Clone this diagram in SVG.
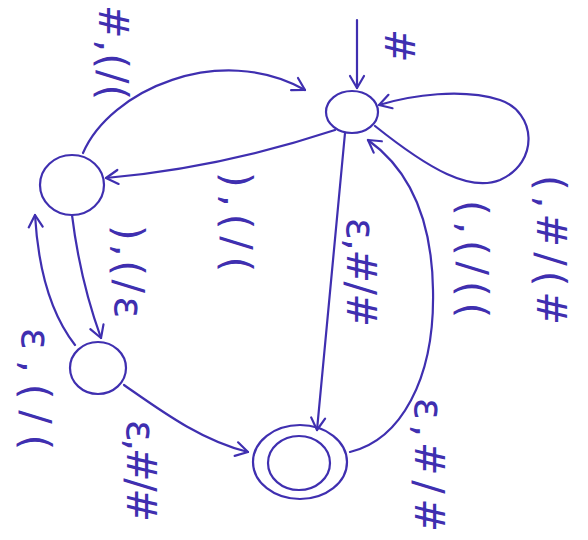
<svg xmlns="http://www.w3.org/2000/svg" width="588" height="540" viewBox="0 0 588 540">
<defs>
<style>
.ink{fill:none;stroke:#3f2fb0;stroke-width:2.2;stroke-linecap:round;stroke-linejoin:round}
.lbl{font-family:"DejaVu Sans",sans-serif;font-size:40px;fill:#3f2fb0}
</style>
<marker id="arr" markerUnits="userSpaceOnUse" viewBox="-14 -9 16 18" refX="0" refY="0" markerWidth="16" markerHeight="18" orient="auto">
<path d="M-12,-7 L0,0 L-12,7" fill="none" stroke="#3f2fb0" stroke-width="2.2" stroke-linecap="round" stroke-linejoin="round"/>
</marker>
</defs>
<rect width="588" height="540" fill="#ffffff"/>
<g id="nodeA"><ellipse class="ink" cx="72" cy="185" rx="32" ry="30"/></g>
<g id="nodeB"><ellipse class="ink" cx="352" cy="112" rx="26" ry="21"/></g>
<g id="nodeC"><ellipse class="ink" cx="98" cy="368" rx="28" ry="26"/></g>
<g id="nodeD"><ellipse class="ink" cx="300" cy="462" rx="47" ry="37"/><ellipse class="ink" cx="299" cy="463" rx="31" ry="27"/></g>
<g id="connectors">
<path class="ink" d="M357,20 L357,88" marker-end="url(#arr)"/>
<path class="ink" d="M375,126 C430,170 470,192 500,180 C540,162 536,112 500,100 C462,88 412,95 379,105" marker-end="url(#arr)"/>
<path class="ink" d="M83,153 C110,90 220,42 305,90" marker-end="url(#arr)"/>
<path class="ink" d="M335,130 Q220,168 106,178" marker-end="url(#arr)"/>
<path class="ink" d="M345,133 L317,430" marker-end="url(#arr)"/>
<path class="ink" d="M350,452 C400,440 435,380 433,290 C432,220 410,170 368,140" marker-end="url(#arr)"/>
<path class="ink" d="M72,215 Q80,280 101,338" marker-end="url(#arr)"/>
<path class="ink" d="M75,345 Q40,300 35,215" marker-end="url(#arr)"/>
<path class="ink" d="M124,385 C160,410 200,440 248,452" marker-end="url(#arr)"/>
</g>
<g id="labels">
<text class="lbl" transform="translate(385,29) rotate(90)">#</text>
<text class="lbl" transform="translate(99,5) rotate(90)" textLength="95" lengthAdjust="spacing">#,(/(</text>
<text class="lbl" transform="translate(223,172) rotate(90)" textLength="100" lengthAdjust="spacing">),(/(</text>
<text class="lbl" transform="translate(537,175) rotate(90)" textLength="150" lengthAdjust="spacing">(,#/(#</text>
<text class="lbl" transform="translate(459,200) rotate(90)" textLength="118" lengthAdjust="spacing">(,(/((</text>
<text class="lbl" transform="translate(115,225) rotate(90)" textLength="93" lengthAdjust="spacing">),(/ε</text>
<text class="lbl" transform="translate(22,328) rotate(90)" textLength="122" lengthAdjust="spacing">ε,(/(</text>
<text class="lbl" transform="translate(127,420) rotate(90)" textLength="102" lengthAdjust="spacing">ε,#/#</text>
<text class="lbl" transform="translate(347,218) rotate(90)" textLength="109" lengthAdjust="spacing">ε,#/#</text>
<text class="lbl" transform="translate(415,398) rotate(90)" textLength="134" lengthAdjust="spacing">ε,#/#</text>
</g>
</svg>
